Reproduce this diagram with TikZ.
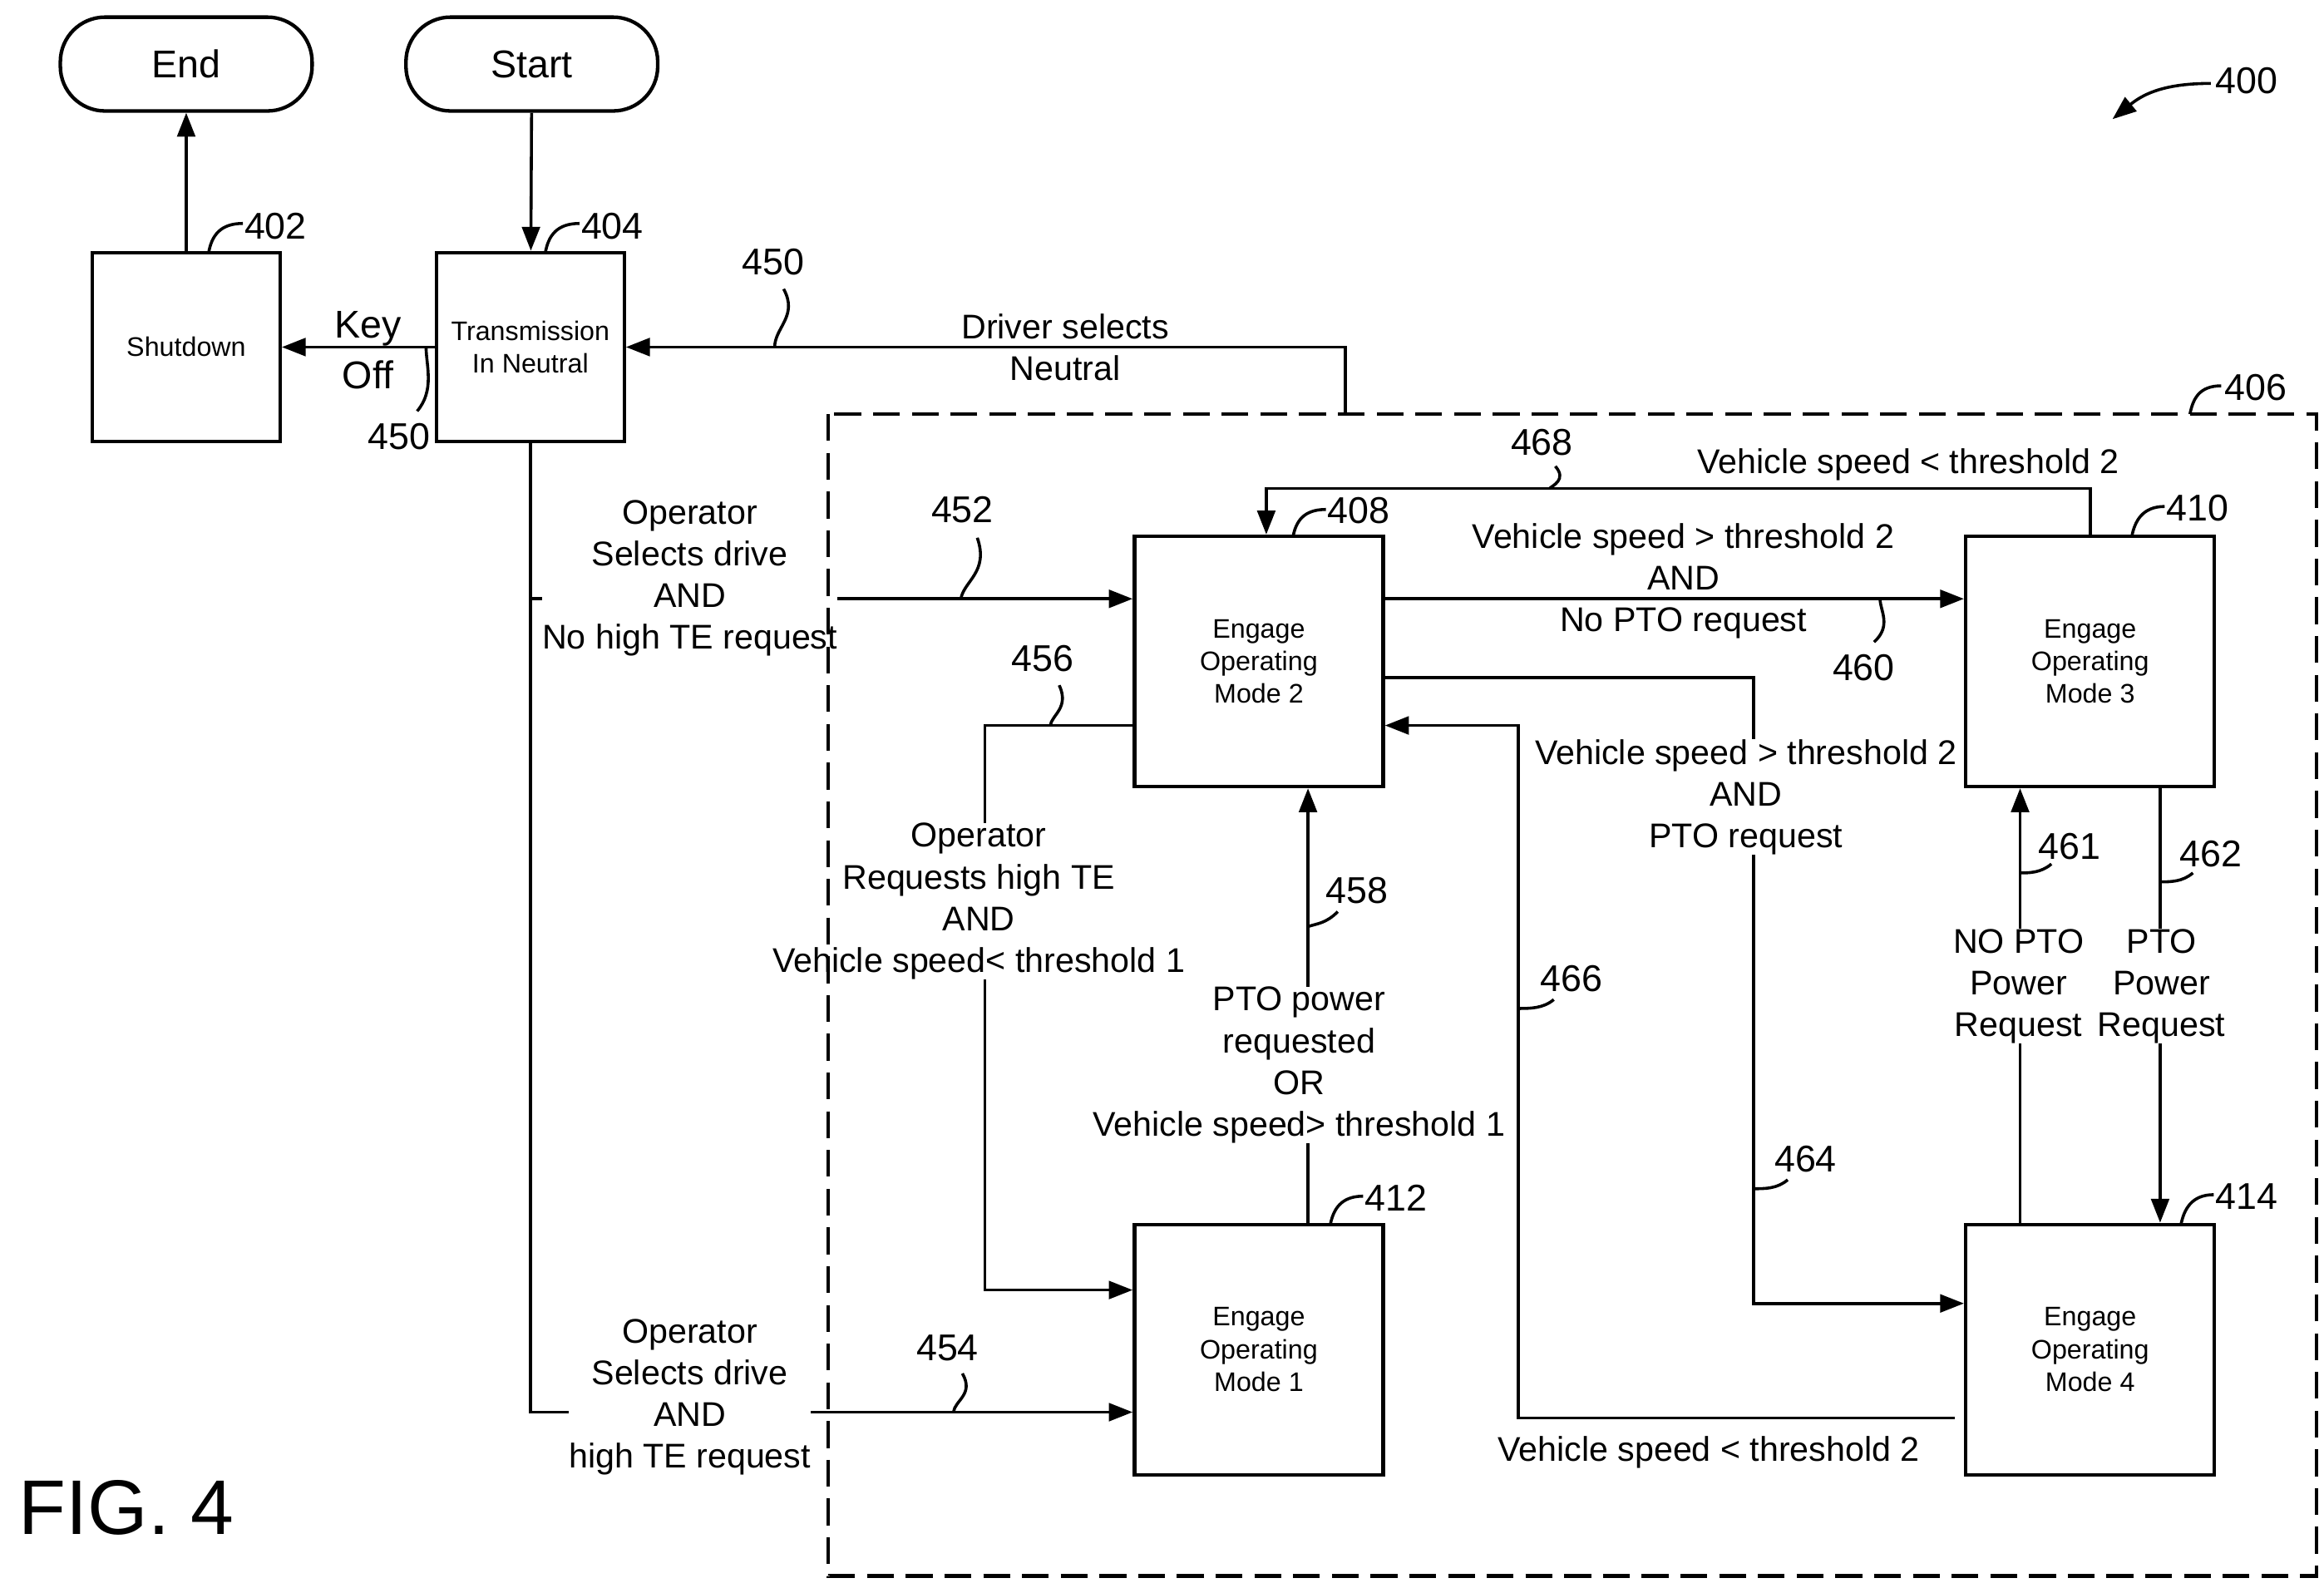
\documentclass[tikz,border=0pt]{standalone}
\usepackage{fontspec}
\setmainfont{Liberation Sans}
\usetikzlibrary{arrows.meta}
\tikzset{
  box/.style={draw, line width=1.2pt, minimum width=83.5pt, minimum height=84pt, align=center, font=\fontsize{9}{11}\selectfont},
  smallbox/.style={box, minimum width=63pt, minimum height=63.5pt},
  term/.style={draw, line width=1.2pt, rounded corners=15pt, minimum width=84.5pt, minimum height=31.5pt, font=\fontsize{13}{15}\selectfont},
  lbl/.style={align=center, inner sep=1pt},
  lblw/.style={lbl, fill=white, inner sep=0pt},
  ref/.style={font=\fontsize{12.5}{14}\selectfont, inner sep=0pt},
}
\begin{document}
\begin{tikzpicture}[x=0.5pt,y=-0.5pt, line width=1pt,
  font=\fontsize{11.5}{14}\selectfont,
  >={Triangle[length=8pt,width=6pt]}]
\useasboundingbox (0,0) rectangle (1560,1066);
% terminals and states
\node[term] (end) at (125,43) {End};
\node[term] (start) at (357,43) {Start};
\node[smallbox] (sd) at (125,233) {Shutdown};
\node[smallbox] (tn) at (356,233) {Transmission\\In Neutral};
\node[box] (m2) at (845,444) {Engage\\Operating\\Mode 2};
\node[box] (m3) at (1403,444) {Engage\\Operating\\Mode 3};
\node[box] (m1) at (845,906) {Engage\\Operating\\Mode 1};
\node[box] (m4) at (1403,906) {Engage\\Operating\\Mode 4};
% corners
\coordinate (k1) at (1177,455);
\coordinate (k2) at (1019,487);
\coordinate (k3) at (850,328);
\coordinate (k4) at (661,866);
\coordinate (k5) at (903,278);
% connectors
\draw[->] (sd) -- (end);
\draw[->] (start) -- (tn);
\draw[->] (tn.west) -- (sd.east);
\draw[->] (k5) |- (tn.east);
\draw[->] (tn.south) |- ([yshift=21pt]m2.west);
\draw[->] (tn.south) |- ([yshift=-21pt]m1.west);
\draw[->] ([yshift=21pt]m2.east) -- ([yshift=21pt]m3.west);
\draw[->] (m3.north) |- (k3) -- ([xshift=2.5pt]m2.north);
\draw[->] ([yshift=-5.5pt]m2.east) -| (k1) |- ([yshift=15.5pt]m4.west);
\draw[->] ([yshift=-23pt,xshift=-3pt]m4.west) -| (k2) -- ([yshift=-21.5pt]m2.east);
\draw[->] ([yshift=-21.5pt]m2.west) -| (k4) -- ([yshift=20pt]m1.west);
\draw[->] ([xshift=16.5pt]m1.north) -- ([xshift=16.5pt]m2.south);
\draw[->] ([xshift=-23.5pt]m4.north) -- ([xshift=-23.5pt]m3.south);
\draw[->] ([xshift=23.5pt]m3.south) -- ([xshift=23.5pt]m4.north);
% labels
\node[lbl, font=\fontsize{13}{17}\selectfont] (lko) at (247,235) {Key\\Off};
\node[lbl] (ldn) at (715,233) {Driver selects\\Neutral};
\node[lblw] (lsd1) at (463,388) {Operator\\Selects drive\\AND\\No high TE request};
\node[lblw] (lsd2) at (463,938) {Operator\\Selects drive\\AND\\high TE request};
\node[lbl] (l460) at (1130,390) {Vehicle speed > threshold 2\\AND\\No PTO request};
\node[lbl] (l468) at (1281,312) {Vehicle speed < threshold 2};
\node[lblw] (l464) at (1172,535) {Vehicle speed > threshold 2\\AND\\PTO request};
\node[lbl] (l466) at (1147,975) {Vehicle speed < threshold 2};
\node[lblw] (l456) at (657,605) {Operator\\Requests high TE\\AND\\Vehicle speed< threshold 1};
\node[lblw] (l458) at (872,715) {PTO power\\requested\\OR\\Vehicle speed> threshold 1};
\node[lblw] (l461) at (1355,662) {NO PTO\\Power\\Request};
\node[lblw] (l462) at (1451,662) {PTO\\Power\\Request};
% dashed region
\draw[dash pattern=on 9pt off 4pt, line width=1.2pt] (556,278) rectangle (1555,1058);
% reference numerals
\node[ref] (r400) at (1508,54) {400};
\draw[->] (1484,56) .. controls (1455,56) and (1440,62) .. (1418,80);
\node[ref] (r402) at (185,152) {402};
\draw (163,150) .. controls (148,150) and (142,158) .. (140,170);
\node[ref] (r404) at (411,152) {404};
\draw (389,150) .. controls (374,150) and (368,158) .. (366,170);
\node[ref] (r406) at (1514,260) {406};
\draw (1491,259) .. controls (1476,259) and (1472,268) .. (1470,278);
\node[ref] (r408) at (912,343) {408};
\draw (890,342) .. controls (875,342) and (870,350) .. (868,360);
\node[ref] (r410) at (1475,341) {410};
\draw (1453,340) .. controls (1438,340) and (1433,350) .. (1431,360);
\node[ref] (r412) at (937,804) {412};
\draw (915,803) .. controls (900,803) and (895,812) .. (893,822);
\node[ref] (r414) at (1508,803) {414};
\draw (1486,802) .. controls (1471,802) and (1466,812) .. (1464,822);
\node[ref] (r450a) at (519,176) {450};
\draw (526,194) .. controls (536,212) and (520,220) .. (520,233);
\node[ref] (r450b) at (268,293) {450};
\draw (280,276) .. controls (292,262) and (286,245) .. (286,233);
\node[ref] (r452) at (646,342) {452};
\draw (656,361) .. controls (664,384) and (647,390) .. (645,402);
\node[ref] (r454) at (636,905) {454};
\draw (646,922) .. controls (654,936) and (641,940) .. (640,948);
\node[ref] (r456) at (700,442) {456};
\draw (711,460) .. controls (718,475) and (706,480) .. (705,487);
\node[ref] (r458) at (911,598) {458};
\draw (898,612) .. controls (890,620) and (884,620) .. (878,622);
\node[ref] (r460) at (1251,448) {460};
\draw (1258,431) .. controls (1270,420) and (1262,410) .. (1262,402);
\node[ref] (r461) at (1389,568) {461};
\draw (1377,580) .. controls (1370,586) and (1362,586) .. (1356,586);
\node[ref] (r462) at (1484,573) {462};
\draw (1472,586) .. controls (1465,592) and (1457,592) .. (1450,592);
\node[ref] (r464) at (1212,778) {464};
\draw (1200,792) .. controls (1193,798) and (1185,798) .. (1177,798);
\node[ref] (r466) at (1055,657) {466};
\draw (1043,671) .. controls (1036,677) and (1027,677) .. (1019,677);
\node[ref] (r468) at (1035,297) {468};
\draw (1044,313) .. controls (1052,322) and (1042,326) .. (1040,328);
\node[ref, font=\fontsize{26}{28}\selectfont] (fig) at (85,1012) {FIG. 4};
\end{tikzpicture}
\end{document}
